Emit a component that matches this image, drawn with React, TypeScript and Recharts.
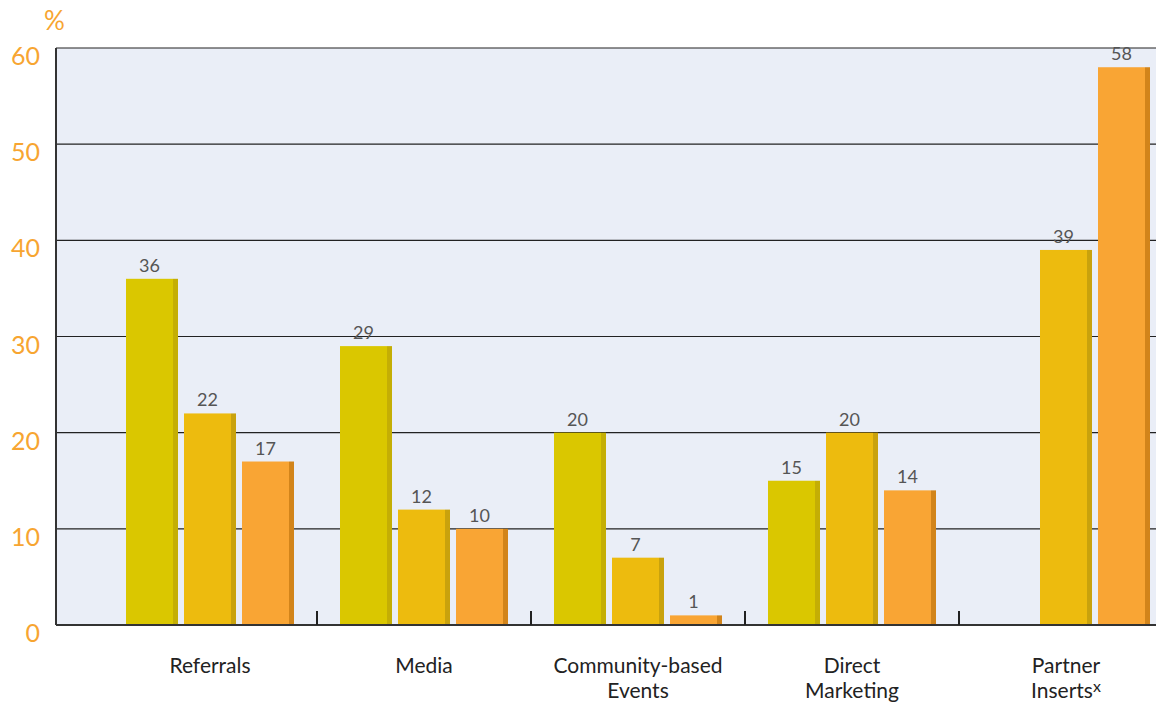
import { Bar, BarChart, CartesianGrid, LabelList, XAxis, YAxis } from "recharts"

const categories = ["Referrals", "Media", "Community-based Events", "Direct Marketing", "Partner Inserts"]
const categoryLines = [["Referrals"], ["Media"], ["Community-based", "Events"], ["Direct", "Marketing"], ["Partner", "Inserts"]]
const categoryNotes = ["", "", "", "", "x"]
const seriesA = [36, 29, 20, 15, null]
const seriesB = [22, 12, 7, 20, 39]
const seriesC = [17, 10, 1, 14, 58]
const yTicks = [0, 10, 20, 30, 40, 50, 60]

const data = categories.map((name, i) => ({ name, a: seriesA[i], b: seriesB[i], c: seriesC[i] }))

const FONT = "Lato, 'Open Sans', sans-serif"
const ORANGE = "#F7A531"
const EDGE = 5

const ShadedBar = (props: any) => {
    const { x, y, width, height, fill, edge } = props
    if (!height || height <= 0) return null
    return (
        <g>
            <rect x={x} y={y} width={width - EDGE} height={height} fill={fill} />
            <rect x={x + width - EDGE} y={y} width={EDGE} height={height} fill={edge} />
        </g>
    )
}

const ValueLabel = (props: any) => {
    const { x, y, width, value } = props
    if (value === null || value === undefined) return null
    return (
        <text x={x + (width - EDGE) / 2} y={y - 7} textAnchor="middle" fontSize={18} fill="#555" fontFamily={FONT}>
            {value}
        </text>
    )
}

const YTick = (props: any) => {
    const { x, y, payload } = props
    return (
        <text x={x} y={y + 17} textAnchor="end" fontSize={25} fill={ORANGE} fontFamily={FONT}>
            {payload.value}
        </text>
    )
}

const XTick = (props: any) => {
    const { x, y, payload, index } = props
    const lines = categoryLines[index] || [payload.value]
    const note = categoryNotes[index]
    const half = payload.offset || 107
    return (
        <g>
            {index < categories.length - 1 && (
                <line x1={x + half} x2={x + half} y1={y - 14} y2={y} stroke="#222" strokeWidth={2} />
            )}
            {lines.map((line, i) => (
                <text key={i} x={x} y={y + 48 + i * 25} textAnchor="middle" fontSize={21} fill="#222" fontFamily={FONT}>
                    {line}
                    {i === lines.length - 1 && note ? (
                        <tspan dy={-6} fontSize={16}>
                            {note}
                        </tspan>
                    ) : null}
                </text>
            ))}
        </g>
    )
}

export default function App() {
    return (
        <div style={{ position: "absolute", left: 0, top: 0, width: 1156, height: 705, overflow: "hidden", background: "#fff" }}>
            <div style={{ position: "absolute", left: 44, top: 3, fontSize: 26, color: ORANGE, fontFamily: FONT, lineHeight: "34px" }}>%</div>
            <BarChart width={1173} height={705} data={data} margin={{ top: 48, right: 0, left: 0, bottom: 0 }} barSize={52} barGap={6}>
                <CartesianGrid vertical={false} fill="#EAEEF7" stroke="#222" strokeWidth={1.2} />
                <XAxis
                    dataKey="name"
                    height={80}
                    padding={{ left: 47, right: 0 }}
                    axisLine={{ stroke: "#333", strokeWidth: 2 }}
                    tickLine={false}
                    tickSize={0}
                    tickMargin={0}
                    interval={0}
                    tick={<XTick />}
                />
                <YAxis
                    width={56}
                    domain={[0, 60]}
                    ticks={yTicks}
                    axisLine={{ stroke: "#333", strokeWidth: 2 }}
                    tickLine={false}
                    tickSize={0}
                    tickMargin={16}
                    tick={<YTick />}
                />
                <Bar dataKey="a" fill="#DAC700" isAnimationActive={false} shape={(p: any) => <ShadedBar {...p} edge="#C4AE05" />}>
                    <LabelList dataKey="a" content={<ValueLabel />} />
                </Bar>
                <Bar dataKey="b" fill="#EDBB0E" isAnimationActive={false} shape={(p: any) => <ShadedBar {...p} edge="#C9A20D" />}>
                    <LabelList dataKey="b" content={<ValueLabel />} />
                </Bar>
                <Bar dataKey="c" fill="#F9A534" isAnimationActive={false} shape={(p: any) => <ShadedBar {...p} edge="#D2841A" />}>
                    <LabelList dataKey="c" content={<ValueLabel />} />
                </Bar>
            </BarChart>
        </div>
    )
}
